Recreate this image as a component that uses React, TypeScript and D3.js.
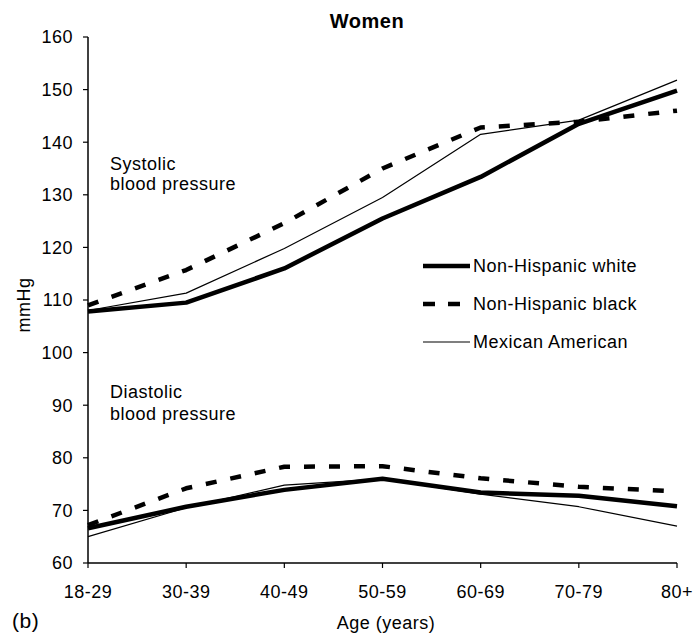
import React from "react";
import * as d3 from "d3";

const ageGroups = ["18-29", "30-39", "40-49", "50-59", "60-69", "70-79", "80+"];
const yTicks = [60, 70, 80, 90, 100, 110, 120, 130, 140, 150, 160];

const whiteSystolic = [107.8, 109.5, 116.0, 125.5, 133.4, 143.5, 149.8];
const blackSystolic = [109.0, 115.7, 124.6, 135.0, 142.8, 143.9, 146.0];
const mexicanSystolic = [108.0, 111.3, 119.8, 129.5, 141.5, 144.2, 151.8];

const whiteDiastolic = [66.6, 70.7, 73.9, 76.0, 73.4, 72.8, 70.8];
const blackDiastolic = [67.2, 74.2, 78.3, 78.4, 76.1, 74.5, 73.6];
const mexicanDiastolic = [65.0, 70.5, 74.8, 76.0, 73.1, 70.7, 67.0];

const legendLabels = ["Non-Hispanic white", "Non-Hispanic black", "Mexican American"];

const FONT = "'Liberation Sans', Arial, Helvetica, sans-serif";

export default function App() {
  const W = 697;
  const H = 640;
  const x = d3.scalePoint<string>().domain(ageGroups).range([88, 677]);
  const y = d3.scaleLinear().domain([60, 160]).range([563, 37]);

  const line = d3
    .line<number>()
    .x((_, i) => x(ageGroups[i]) as number)
    .y((d) => y(d));

  const styles = [
    { width: 4.5, dash: undefined as string | undefined },
    { width: 4.5, dash: "11,14" },
    { width: 1.2, dash: undefined as string | undefined },
  ];

  const series = [
    { data: whiteSystolic, s: 0 },
    { data: whiteDiastolic, s: 0 },
    { data: mexicanSystolic, s: 2 },
    { data: mexicanDiastolic, s: 2 },
    { data: blackSystolic, s: 1 },
    { data: blackDiastolic, s: 1 },
  ];

  const [x0, x1] = x.range();
  const [yb, yt] = y.range();

  const legendY = [266, 304, 342];
  const fs = 18;
  const ls = 0.5;

  return (
    <svg
      width={W}
      height={H}
      style={{ position: "absolute", left: 0, top: 0, background: "#fff" }}
      fontFamily={FONT}
    >
      <rect x={0} y={0} width={W} height={H} fill="#fff" />
      {/* Title */}
      <text x={367} y={28} textAnchor="middle" fontSize={20} fontWeight="bold" letterSpacing={0.5} fill="#000">
        Women
      </text>

      {/* Y axis */}
      <line x1={x0} x2={x0} y1={yt} y2={yb} stroke="#000" strokeWidth={1.5} />
      {yTicks.map((t) => (
        <g key={t}>
          <line x1={x0 - 5} x2={x0} y1={y(t)} y2={y(t)} stroke="#000" strokeWidth={1.2} />
          <text x={73} y={y(t)} dy="0.36em" textAnchor="end" fontSize={fs} letterSpacing={ls} fill="#000">
            {t}
          </text>
        </g>
      ))}
      <text
        transform={`translate(24,305) rotate(-90)`}
        textAnchor="middle"
        dy="0.36em"
        fontSize={fs}
        letterSpacing={ls}
        fill="#000"
      >
        mmHg
      </text>

      {/* X axis */}
      <line x1={x0} x2={x1} y1={yb} y2={yb} stroke="#000" strokeWidth={1.5} />
      {ageGroups.map((g) => (
        <g key={g}>
          <line x1={x(g)} x2={x(g)} y1={yb} y2={yb + 5} stroke="#000" strokeWidth={1.2} />
          <text x={x(g)} y={598} textAnchor="middle" fontSize={fs} letterSpacing={ls} fill="#000">
            {g}
          </text>
        </g>
      ))}
      <text x={386} y={629} textAnchor="middle" fontSize={fs} letterSpacing={ls} fill="#000">
        Age (years)
      </text>
      <text x={12} y={628} fontSize={21} letterSpacing={0.5} fill="#000">
        (b)
      </text>

      {/* Annotations */}
      <text x={110} y={170} fontSize={fs} letterSpacing={ls} fill="#000">Systolic</text>
      <text x={110} y={190} fontSize={fs} letterSpacing={ls} fill="#000">blood pressure</text>
      <text x={110} y={398} fontSize={fs} letterSpacing={ls} fill="#000">Diastolic</text>
      <text x={110} y={420} fontSize={fs} letterSpacing={ls} fill="#000">blood pressure</text>

      {/* Lines */}
      {series.map((sr, i) => (
        <path
          key={i}
          d={line(sr.data) || ""}
          fill="none"
          stroke="#000"
          strokeWidth={styles[sr.s].width}
          strokeDasharray={styles[sr.s].dash}
          strokeLinejoin="round"
        />
      ))}

      {/* Legend */}
      {legendLabels.map((lab, i) => (
        <g key={lab}>
          <line
            x1={423}
            x2={470}
            y1={legendY[i]}
            y2={legendY[i]}
            stroke="#000"
            strokeWidth={styles[i].width}
            strokeDasharray={i === 1 ? "12,13" : undefined}
          />
          <text x={473} y={legendY[i]} dy="0.36em" fontSize={fs} letterSpacing={ls} fill="#000">
            {lab}
          </text>
        </g>
      ))}
    </svg>
  );
}
